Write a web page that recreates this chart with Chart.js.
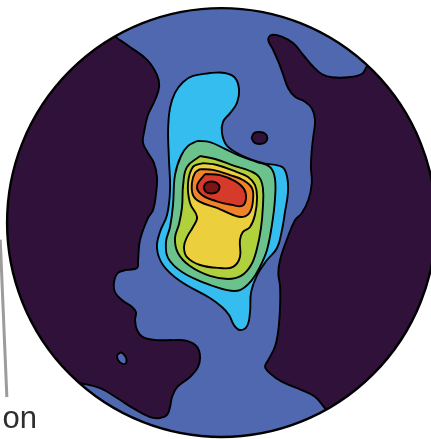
<!DOCTYPE html>
<html><head><meta charset="utf-8">
<script src="https://cdn.jsdelivr.net/npm/chart.js@4.4.1/dist/chart.umd.min.js"></script>
<style>html,body{margin:0;padding:0;background:#fff}canvas{display:block}</style>
</head><body>
<canvas id="c" width="431" height="439"></canvas>
<script>
// Density contour outlines on the projection net (net radius = 100 units, x east, y north)
const westLow = [[-125,-20],[-118,45],[-88,92],[-60,94],[-48.7,86.0],[-42.7,81.8],[-34.7,75.8],[-30.1,68.8],[-29.1,63.2],[-31.0,57.1],[-34.3,50.1],[-36.1,42.2],[-36.6,37.1],[-34.3,32.4],[-31.5,27.7],[-30.1,21.2],[-30.5,13.8],[-31.9,5.8],[-34.3,2.1],[-38.0,-8.2],[-38.9,-17.5],[-39.4,-21.2],[-44.1,-22.1],[-48.3,-23.5],[-50.1,-27.7],[-49.7,-32.4],[-46.4,-36.1],[-41.7,-39.4],[-39.9,-41.7],[-40.3,-45.5],[-39.4,-50.1],[-36.6,-53.4],[-30.1,-54.8],[-22.6,-54.8],[-16.1,-55.2],[-11.4,-58.0],[-10.0,-62.7],[-11.0,-67.4],[-14.7,-72.0],[-20.7,-76.7],[-23.1,-81.4],[-24.0,-86.0],[-25.4,-89.7],[-28.7,-91.1],[-33.3,-90.7],[-41.3,-86.5],[-48.7,-81.8],[-56.6,-77.2],[-66.0,-74.8],[-81,-71.5],[-105,-70]];
const eastLow = [[125,0],[118,50],[92,84],[73,80],[67.7,72.6],[65.4,69.2],[59.1,67.7],[51.4,67.7],[46.7,69.2],[42.8,72.6],[38.1,78.1],[33.5,83.5],[28.1,86.6],[23.4,87.4],[21.8,85.1],[24.1,80.4],[26.5,75.0],[28.8,68.8],[31.1,62.6],[34.3,58.6],[38.9,56.3],[42.1,53.2],[43.6,47.8],[42.8,40.0],[42.1,33.8],[41.7,26.0],[42.1,18.3],[40.5,10.5],[37.4,4.3],[34.3,1.2],[30.4,-8.2],[27.3,-17.5],[26.5,-23.7],[27.3,-29.9],[27.3,-39.3],[26.5,-50.1],[24.9,-57.9],[21.8,-64.1],[20.3,-67.2],[22.6,-70.3],[28.1,-74.2],[37.4,-78.1],[43.6,-81.2],[48.3,-86.6],[55,-94],[80,-98],[115,-60]];
const westIsland = [[-48.7,-61.8],[-46.9,-60.6],[-44.8,-62.5],[-44.3,-65.0],[-45.9,-66.0],[-48.3,-64.1]];
const level2 = [[-5.4,69.7],[1.6,69.7],[6.3,67.4],[8.2,61.8],[7.2,55.7],[4.0,51.0],[0.7,46.9],[0.2,41.7],[2.6,35.7],[10.0,31.0],[19.3,27.7],[28.2,25.9],[30.5,21.7],[31.0,14.2],[29.6,4.9],[28.2,-3.5],[25.9,-11.9],[21.2,-17.5],[16.6,-24.5],[13.8,-32.4],[13.3,-41.7],[11.9,-48.3],[8.6,-50.1],[5.8,-47.8],[3.5,-43.1],[0.2,-39.4],[-5.4,-35.2],[-19.3,-27.3],[-27.3,-19.8],[-30.1,-11.9],[-28.7,-4.4],[-25.4,3.5],[-24.0,15.2],[-24.5,29.1],[-24.9,43.1],[-24.0,53.4],[-21.7,60.4],[-17.9,65.5],[-13.3,68.3]];
const eastSpot = [[14.0,39.4],[15.2,41.7],[17.7,42.2],[20.3,41.5],[21.4,39.4],[20.3,37.3],[17.7,36.6],[15.2,37.3]];
const level3 = [[-11.4,38.0],[-5.4,37.5],[1.6,34.3],[8.6,31.0],[16.6,28.2],[22.6,25.9],[24.9,20.7],[24.9,10.5],[23.5,-1.2],[21.2,-12.8],[17.9,-20.7],[13.8,-27.3],[8.6,-31.5],[2.6,-31.5],[-7.7,-28.2],[-18.4,-23.1],[-24.9,-16.6],[-25.9,-9.1],[-24.0,-2.1],[-22.6,8.2],[-21.7,22.1],[-18.9,31.0],[-15.6,35.7]];
const level4 = [[-10.0,31.0],[-3.0,29.6],[6.3,26.3],[13.3,24.0],[17.5,21.2],[19.3,16.1],[19.3,7.2],[18.4,-2.6],[16.6,-11.9],[13.8,-19.8],[9.1,-24.9],[3.0,-26.3],[-5.4,-24.9],[-14.7,-20.3],[-20.3,-14.2],[-21.7,-7.2],[-19.8,-0.7],[-18.4,7.2],[-17.9,17.5],[-16.1,25.9]];
const level5 = [[-8.6,27.7],[-2.1,26.8],[7.2,23.5],[12.4,21.2],[15.6,17.5],[16.6,11.9],[15.6,3.5],[13.3,-2.1],[10.0,-4.4],[8.6,-8.2],[8.6,-16.1],[5.4,-20.7],[-0.7,-21.2],[-10.0,-19.8],[-16.1,-16.1],[-17.5,-11.4],[-16.1,-6.8],[-13.3,-2.1],[-11.4,2.6],[-14.7,9.1],[-15.6,18.4],[-13.3,25.9]];
const level6 = [[-10.0,24.9],[-4.0,24.5],[4.0,22.1],[10.0,19.8],[14.2,16.1],[14.7,10.5],[13.3,4.9],[10.0,2.6],[5.4,3.5],[-2.1,6.8],[-10.0,9.6],[-13.3,12.8],[-13.8,18.4],[-12.4,23.1]];
const level7 = [[-7.7,22.6],[-0.7,22.1],[6.3,19.3],[10.5,15.6],[11.4,11.0],[9.6,7.7],[4.9,8.2],[-2.6,10.0],[-9.1,12.8],[-11.4,17.0]];
const level8 = [[-8.4,16.3],[-7.2,18.4],[-4.7,19.1],[-2.1,18.4],[-0.9,16.3],[-2.1,14.2],[-4.7,13.5],[-7.2,14.2]];
const pointer = [[-103.2,-8],[-100.1,-81.4]];
const labelText = 'on';
const labelAnchor = [-86.0,-95.8];

const COLORS = {purple:'#30113a', blue:'#5068b0', cyan:'#34bdee', green:'#6cc28c', yg:'#b0d03c', yellow:'#eccf3c', orange:'#f08228', red:'#d53a2a', darkred:'#7a1416'};

function closed(pts){ const d = pts.map(p => ({x:p[0], y:p[1]})); d.push({x:pts[0][0], y:pts[0][1]}); return d; }

const regions = [
  {pts: westLow, color: COLORS.purple},
  {pts: eastLow, color: COLORS.purple},
  {pts: westIsland, color: COLORS.blue},
  {pts: level2, color: COLORS.cyan},
  {pts: eastSpot, color: COLORS.purple},
  {pts: level3, color: COLORS.green},
  {pts: level4, color: COLORS.yg},
  {pts: level5, color: COLORS.yellow},
  {pts: level6, color: COLORS.orange},
  {pts: level7, color: COLORS.red},
  {pts: level8, color: COLORS.darkred}
];

const datasets = regions.map((r, i) => ({
  data: closed(r.pts),
  backgroundColor: r.color,
  borderColor: '#000',
  borderWidth: 1.9,
  borderJoinStyle: 'round',
  fill: 'shape',
  tension: 0.4,
  pointRadius: 0,
  indexAxis: 'y',
  order: 100 - i,
  circleClip: true
}));
datasets.push({
  data: pointer.map(p => ({x:p[0], y:p[1]})),
  borderColor: '#9c9c9c', borderWidth: 3, fill: false, pointRadius: 0, tension: 0, order: 0, circleClip: false
});

let clipped = false;
const netPlugin = {
  id: 'net',
  beforeDatasetsDraw(chart) {
    const {ctx, scales:{x, y}} = chart;
    const cx = x.getPixelForValue(0), cy = y.getPixelForValue(0), r = x.getPixelForValue(100) - cx;
    ctx.save();
    ctx.beginPath(); ctx.arc(cx, cy, r, 0, Math.PI * 2); ctx.clip();
    ctx.fillStyle = COLORS.blue; ctx.fill();
    clipped = true;
  },
  beforeDatasetDraw(chart, args) {
    const ds = chart.data.datasets[args.index];
    if (!ds.circleClip && clipped) { chart.ctx.restore(); clipped = false; }
  },
  afterDatasetsDraw(chart) {
    const {ctx, scales:{x, y}} = chart;
    if (clipped) { ctx.restore(); clipped = false; }
    const cx = x.getPixelForValue(0), cy = y.getPixelForValue(0), r = x.getPixelForValue(100) - cx;
    ctx.save();
    ctx.beginPath(); ctx.arc(cx, cy, r, 0, Math.PI * 2);
    ctx.lineWidth = 2.4; ctx.strokeStyle = '#000'; ctx.stroke();
    ctx.font = '31px "Liberation Sans", Arial, sans-serif';
    ctx.fillStyle = '#2e2e2e';
    ctx.textAlign = 'right'; ctx.textBaseline = 'alphabetic';
    ctx.fillText(labelText, x.getPixelForValue(labelAnchor[0]), y.getPixelForValue(labelAnchor[1]));
    ctx.restore();
  }
};

new Chart(document.getElementById('c'), {
  type: 'line',
  data: { datasets },
  options: {
    responsive: false,
    animation: false,
    events: [],
    layout: { padding: 0 },
    plugins: { legend: { display: false }, tooltip: { enabled: false } },
    scales: {
      x: { type: 'linear', min: -103.3, max: 97.7, display: false },
      y: { type: 'linear', min: -100.9, max: 103.7, display: false }
    }
  },
  plugins: [netPlugin]
});
</script>
</body></html>
